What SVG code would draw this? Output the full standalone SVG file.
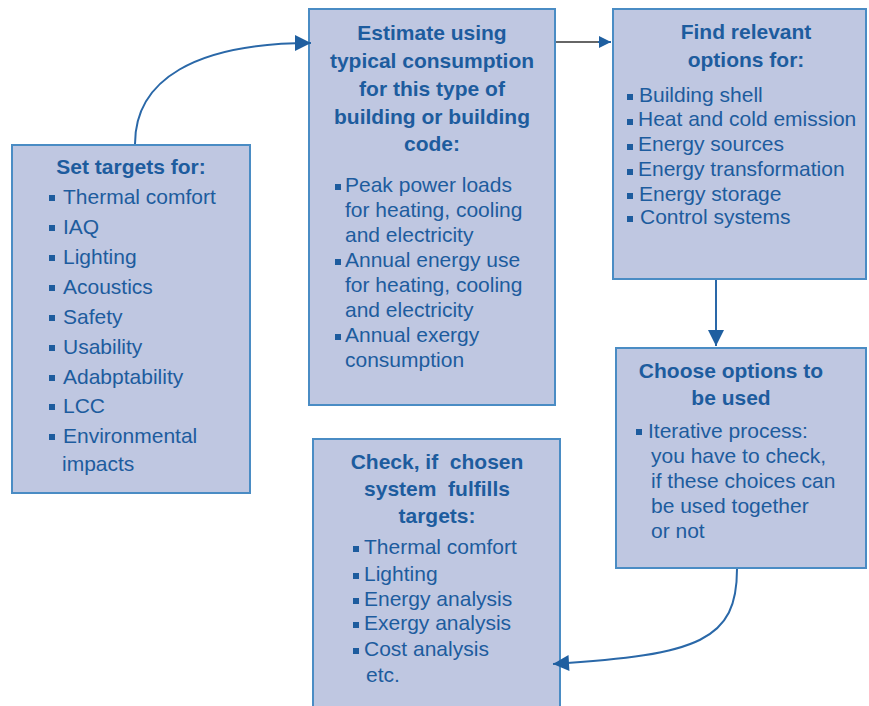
<svg xmlns="http://www.w3.org/2000/svg" width="869" height="706" viewBox="0 0 869 706">
<defs>
<style>
.box{fill:#bfc7e1;stroke:#4a8cc4;stroke-width:2}
text{font-family:"Liberation Sans",Arial,sans-serif;font-size:21px;fill:#1d5c9e}
.t{font-weight:bold;text-anchor:middle}
.b{fill:#1d5c9e}
.c{fill:none;stroke:#2a68a8;stroke-width:2}
</style>
<marker id="ah2" viewBox="0 0 10 10" refX="10" refY="5" markerWidth="20" markerHeight="16" markerUnits="userSpaceOnUse" orient="auto">
<path d="M0,0 L10,5 L0,10 z" fill="#1f5fa0"/>
</marker>
<marker id="ah1" viewBox="0 0 10 10" refX="10" refY="5" markerWidth="13" markerHeight="12" markerUnits="userSpaceOnUse" orient="auto">
<path d="M0,0 L10,5 L0,10 z" fill="#1f5fa0"/>
</marker>
</defs>
<rect width="869" height="706" fill="#ffffff"/>
<g id="n1">
<rect class="box" x="12" y="145" width="238" height="348"/>
<text class="t" x="131" y="174">Set targets for:</text>
<g class="b"><rect x="49" y="195" width="6" height="6"/><rect x="49" y="225" width="6" height="6"/><rect x="49" y="255" width="6" height="6"/><rect x="49" y="285" width="6" height="6"/><rect x="49" y="315" width="6" height="6"/><rect x="49" y="345" width="6" height="6"/><rect x="49" y="375" width="6" height="6"/><rect x="49" y="404" width="6" height="6"/><rect x="49" y="434" width="6" height="6"/></g>
<text x="63" y="204">Thermal comfort</text>
<text x="63" y="234">IAQ</text>
<text x="63" y="264">Lighting</text>
<text x="63" y="294">Acoustics</text>
<text x="63" y="324">Safety</text>
<text x="63" y="354">Usability</text>
<text x="63" y="384">Adabptability</text>
<text x="63" y="413">LCC</text>
<text x="63" y="443">Environmental</text>
<text x="62" y="471">impacts</text>
</g>
<g id="n2">
<rect class="box" x="309" y="9" width="246" height="396"/>
<text class="t" x="432" y="40">Estimate using</text>
<text class="t" x="432" y="68">typical consumption</text>
<text class="t" x="432" y="96">for this type of</text>
<text class="t" x="432" y="124">building or building</text>
<text class="t" x="432" y="151">code:</text>
<g class="b"><rect x="335" y="184" width="6" height="6"/><rect x="335" y="259" width="6" height="6"/><rect x="335" y="334" width="6" height="6"/></g>
<text x="345" y="192">Peak power loads</text>
<text x="345" y="217">for heating, cooling</text>
<text x="345" y="242">and electricity</text>
<text x="345" y="267">Annual energy use</text>
<text x="345" y="292">for heating, cooling</text>
<text x="345" y="317">and electricity</text>
<text x="345" y="342">Annual exergy</text>
<text x="345" y="367">consumption</text>
</g>
<g id="n3">
<rect class="box" x="613" y="9" width="253" height="270"/>
<text class="t" x="746" y="39">Find relevant</text>
<text class="t" x="746" y="67">options for:</text>
<g class="b"><rect x="627" y="94" width="6" height="6"/><rect x="627" y="119" width="6" height="6"/><rect x="627" y="144" width="6" height="6"/><rect x="627" y="169" width="6" height="6"/><rect x="627" y="193" width="6" height="6"/><rect x="627" y="216" width="6" height="6"/></g>
<text x="639" y="102">Building shell</text>
<text x="638" y="126">Heat and cold emission</text>
<text x="638" y="151">Energy sources</text>
<text x="638" y="176">Energy transformation</text>
<text x="639" y="201">Energy storage</text>
<text x="640" y="224">Control systems</text>
</g>
<g id="n4">
<rect class="box" x="616" y="348" width="250" height="220"/>
<text class="t" x="731" y="378">Choose options to</text>
<text class="t" x="731" y="405">be used</text>
<rect class="b" x="636" y="429" width="6" height="6"/>
<text x="648" y="438">Iterative process:</text>
<text x="651" y="463">you have to check,</text>
<text x="651" y="488">if these choices can</text>
<text x="651" y="513">be used together</text>
<text x="651" y="538">or not</text>
</g>
<g id="n5">
<rect class="box" x="313" y="439" width="247" height="280"/>
<text class="t" x="437" y="469" xml:space="preserve">Check, if  chosen</text>
<text class="t" x="437" y="496" xml:space="preserve">system  fulfills</text>
<text class="t" x="437" y="523">targets:</text>
<g class="b"><rect x="353" y="546" width="6" height="6"/><rect x="353" y="573" width="6" height="6"/><rect x="353" y="598" width="6" height="6"/><rect x="353" y="622" width="6" height="6"/><rect x="353" y="648" width="6" height="6"/></g>
<text x="364" y="554">Thermal comfort</text>
<text x="364" y="581">Lighting</text>
<text x="364" y="606">Energy analysis</text>
<text x="364" y="630">Exergy analysis</text>
<text x="364" y="656">Cost analysis</text>
<text x="366" y="682">etc.</text>
</g>
<g id="connectors">
<path class="c" d="M135,144 C135,80 195,43 311,43" marker-end="url(#ah2)"/>
<path d="M556,42 L600,42" fill="none" stroke="#333" stroke-width="1.3"/>
<path d="M598,42 L611,42" class="c" marker-end="url(#ah1)"/>
<path class="c" d="M716,280 L716,346" marker-end="url(#ah2)"/>
<path class="c" d="M737,569 C737,640 700,655 553,664" marker-end="url(#ah2)"/>
</g>
</svg>
